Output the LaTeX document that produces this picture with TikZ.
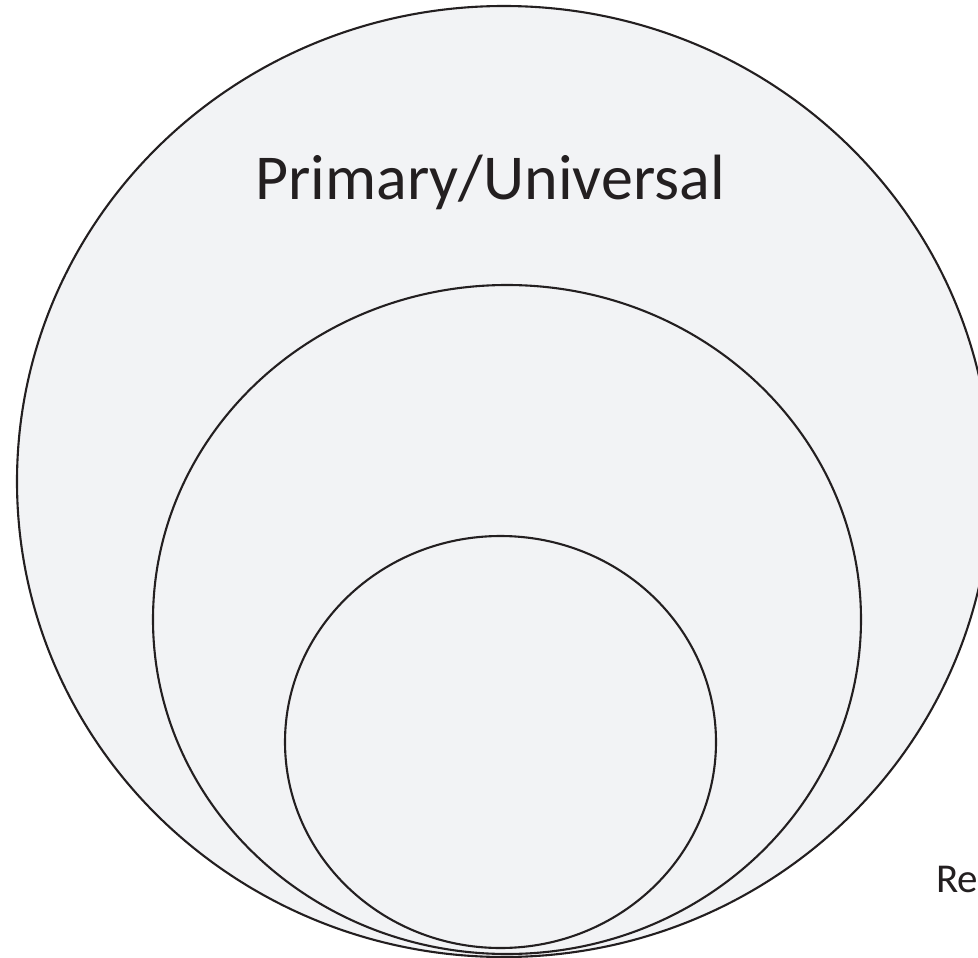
\documentclass[tikz,border=0pt]{standalone}
\usepackage{fontspec}
\setmainfont{Carlito}
\definecolor{ringfill}{HTML}{F2F3F5}
\definecolor{ringline}{HTML}{231F20}
\tikzset{
  ring/.style={fill=ringfill, draw=ringline, line width=2.1pt},
  bigtext/.style={font=\fontsize{64}{70}\selectfont, text=ringline, inner sep=0pt},
  smalltext/.style={font=\fontsize{41}{46}\selectfont, text=ringline, inner sep=0pt}
}
\begin{document}
\begin{tikzpicture}[x=1pt,y=-1pt]
\useasboundingbox (0,0) rectangle (978,958);
\clip (0,0) rectangle (978,958);
\path[ring] (504,481.5) ellipse [x radius=487, y radius=475.5];
\path[ring] (507,619.5) ellipse [x radius=354, y radius=334.5];
\path[ring] (500.5,742) ellipse [x radius=215.5, y radius=206];
\node[bigtext, anchor=base] (title) at (490,199) {Primary/Universal};
\node[smalltext, anchor=base west] (re) at (936,892) {Re};
\end{tikzpicture}
\end{document}
